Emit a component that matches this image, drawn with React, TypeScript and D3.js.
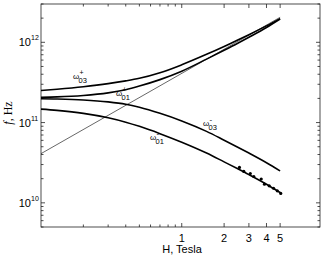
import React from "react";
import * as d3 from "d3";

const H = [0.1, 0.13, 0.2, 0.3, 0.4, 0.5, 0.7, 1, 1.5, 2, 2.5, 3, 4, 5];
const w03p = [2.512e11, 2.606e11, 2.799e11, 3.055e11, 3.304e11, 3.556e11, 4.169e11, 5.248e11, 7.079e11, 8.872e11, 1.067e12, 1.245e12, 1.603e12, 1.972e12];
const w01p = [2.070e11, 2.089e11, 2.173e11, 2.344e11, 2.570e11, 2.851e11, 3.428e11, 4.365e11, 6.166e11, 7.943e11, 9.727e11, 1.156e12, 1.531e12, 1.950e12];
const w03m = [1.977e11, 1.963e11, 1.914e11, 1.811e11, 1.690e11, 1.549e11, 1.303e11, 1.047e11, 7.762e10, 6.026e10, 4.932e10, 4.169e10, 3.162e10, 2.500e10];
const w01m = [1.472e11, 1.419e11, 1.303e11, 1.148e11, 1.012e11, 8.974e10, 7.278e10, 5.689e10, 4.169e10, 3.236e10, 2.655e10, 2.249e10, 1.706e10, 1.343e10];
const asymH = [0.1, 5];
const asymF = [4.1e10, 2.05e12];
const expH = [2.57, 2.76, 3.07, 3.25, 3.67, 3.87, 4.18, 4.49, 4.77, 5.05];
const expF = [2.76e10, 2.46e10, 2.32e10, 2.13e10, 1.98e10, 1.71e10, 1.63e10, 1.52e10, 1.41e10, 1.31e10];
const xMajor = [1, 2, 3, 4, 5];
const xMinor = [0.2, 0.3, 0.4, 0.5, 0.6, 0.7, 0.8, 0.9];
const yMajorExp = [10, 11, 12];

export default function App() {
  const W = 327, Hh = 257;
  const L = 41, R = 320, T = 4, B = 227;
  const x = d3.scaleLog().domain([0.1, 9.6]).range([L, R]);
  const y = d3.scaleLog().domain([5e9, 3e12]).range([B, T]);

  const line = d3
    .line<[number, number]>()
    .x((d) => x(d[0]))
    .y((d) => y(d[1]))
    .curve(d3.curveMonotoneX);

  const mk = (fs: number[]) => line(H.map((h, i) => [h, fs[i]] as [number, number])) || "";

  const yMinor: number[] = [];
  for (let e = 9; e <= 12; e++) {
    for (let m = 2; m <= 9; m++) {
      const v = m * Math.pow(10, e);
      if (v >= 5e9 && v <= 3e12) yMinor.push(v);
    }
  }

  const font = "'Liberation Sans', Arial, sans-serif";

  const omegaLabel = (xx: number, yy: number, sub: string, sup: string) => (
    <g fontFamily={font} fill="#000">
      <text x={xx} y={yy} fontSize={8}>ω</text>
      <text x={xx + 5.5} y={yy + 4} fontSize={7.5}>{sub}</text>
      <text x={xx + 6.5} y={yy - 4} fontSize={sup === "+" ? 7 : 8}>{sup}</text>
    </g>
  );

  return (
    <svg
      width={W}
      height={Hh}
      style={{ position: "absolute", left: 0, top: 0, background: "#fff" }}
    >
      <rect x={0} y={0} width={W} height={Hh} fill="#fff" />
      <rect x={L} y={T} width={R - L} height={B - T} fill="none" stroke="#222" strokeWidth={0.8} />
      {xMajor.map((v) => (
        <g key={"xM" + v}>
          <line x1={x(v)} x2={x(v)} y1={B} y2={B - 4} stroke="#222" strokeWidth={0.8} />
          <line x1={x(v)} x2={x(v)} y1={T} y2={T + 4} stroke="#222" strokeWidth={0.8} />
          <text x={x(v)} y={B + 15} fontSize={11} fontFamily={font} textAnchor="middle">{v}</text>
        </g>
      ))}
      {xMinor.map((v) => (
        <g key={"xm" + v}>
          <line x1={x(v)} x2={x(v)} y1={B} y2={B - 2.5} stroke="#222" strokeWidth={0.8} />
          <line x1={x(v)} x2={x(v)} y1={T} y2={T + 2.5} stroke="#222" strokeWidth={0.8} />
        </g>
      ))}
      {yMajorExp.map((e) => {
        const yy = y(Math.pow(10, e));
        return (
          <g key={"yM" + e}>
            <line x1={L} x2={L + 4} y1={yy} y2={yy} stroke="#222" strokeWidth={0.8} />
            <line x1={R} x2={R - 4} y1={yy} y2={yy} stroke="#222" strokeWidth={0.8} />
            <text x={31} y={yy + 4} fontSize={11} fontFamily={font} textAnchor="end">10</text>
            <text x={31} y={yy - 2} fontSize={7} fontFamily={font} textAnchor="start">{e}</text>
          </g>
        );
      })}
      {yMinor.map((v) => (
        <g key={"ym" + v}>
          <line x1={L} x2={L + 2.5} y1={y(v)} y2={y(v)} stroke="#222" strokeWidth={0.8} />
          <line x1={R} x2={R - 2.5} y1={y(v)} y2={y(v)} stroke="#222" strokeWidth={0.8} />
        </g>
      ))}
      <text x={182} y={253} fontSize={11} fontFamily={font} textAnchor="middle">H, Tesla</text>
      <text
        transform={`translate(12,${113}) rotate(-90)`}
        fontSize={12}
        fontFamily="'Liberation Serif', 'Times New Roman', serif"
        textAnchor="middle"
      >
        <tspan fontStyle="italic">f</tspan>, Hz
      </text>
      <line
        x1={x(asymH[0])}
        y1={y(asymF[0])}
        x2={x(asymH[1])}
        y2={y(asymF[1])}
        stroke="#000"
        strokeWidth={0.6}
      />
      {[w03p, w01p, w03m, w01m].map((fs, i) => (
        <path key={"c" + i} d={mk(fs)} fill="none" stroke="#000" strokeWidth={1.6} />
      ))}
      {expH.map((h, i) => (
        <circle key={"p" + i} cx={x(h)} cy={y(expF[i])} r={1.6} fill="#000" />
      ))}
      {omegaLabel(73, 79, "03", "+")}
      {omegaLabel(116, 96, "01", "+")}
      {omegaLabel(203, 126, "03", "-")}
      {omegaLabel(150, 140, "01", "-")}
    </svg>
  );
}
